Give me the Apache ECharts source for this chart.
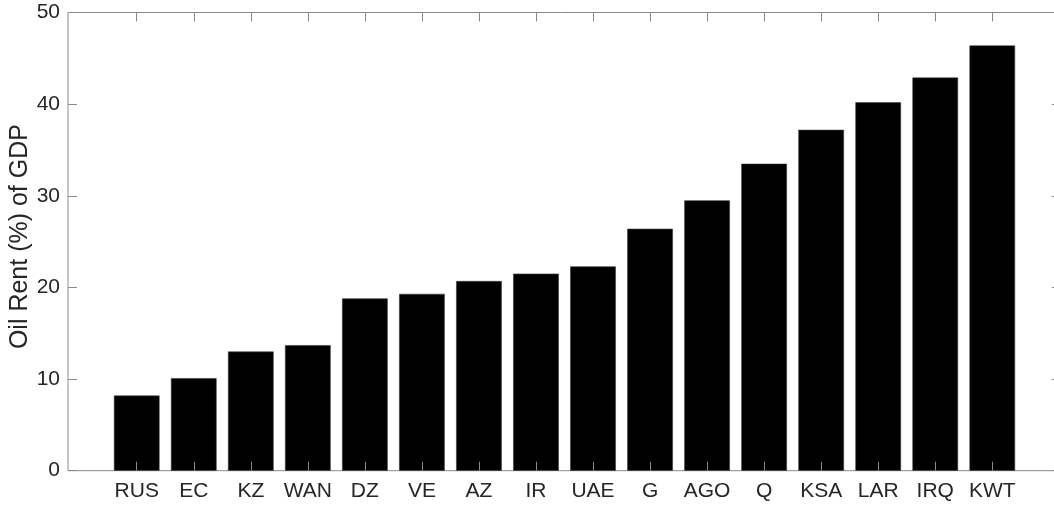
<!DOCTYPE html>
<html>
<head>
<meta charset="utf-8">
<script src="https://cdn.jsdelivr.net/npm/echarts@6/dist/echarts.min.js"></script>
<style>
  html, body { margin: 0; padding: 0; background: #fff; }
  #chart { width: 1054px; height: 507px; }
</style>
</head>
<body>
<div id="chart"></div>
<script>
// Oil rent as a share of GDP, by country code
const categories = ['RUS', 'EC', 'KZ', 'WAN', 'DZ', 'VE', 'AZ', 'IR', 'UAE', 'G', 'AGO', 'Q', 'KSA', 'LAR', 'IRQ', 'KWT'];
const oilRent = [8.2, 10.1, 13.0, 13.7, 18.8, 19.3, 20.7, 21.5, 22.3, 26.4, 29.5, 33.5, 37.2, 40.2, 42.9, 46.4];
const yMin = 0;
const yMax = 50;
const yStep = 10;
const yTitle = 'Oil Rent (%) of GDP';

const axisGray = '#8a8a8a';
const textColor = '#262626';
const fontFamily = '"Liberation Sans", Arial, Helvetica, sans-serif';

const chart = echarts.init(document.getElementById('chart'), null, { renderer: 'canvas' });

chart.setOption({
  animation: false,
  backgroundColor: '#fff',
  textStyle: { fontFamily: fontFamily },
  grid: [
    // outer box with the value axes (extends a little past the right edge)
    { left: 68, top: 12.5, width: 992.8, height: 458.2, show: true,
      outerBoundsMode: 'none', containLabel: false,
      borderColor: axisGray, borderWidth: 1, backgroundColor: 'transparent' },
    // inner band area holding the bars
    { left: 108.2, top: 12.5, width: 912.6, height: 458.2,
      outerBoundsMode: 'none', containLabel: false }
  ],
  xAxis: [
    { gridIndex: 0, type: 'value', min: 0, max: 1, show: false },
    {
      gridIndex: 1, type: 'category', position: 'bottom', data: categories,
      boundaryGap: true, z: 10,
      axisLine: { show: false },
      axisTick: { show: true, inside: true, alignWithLabel: true, interval: 0, length: 9,
                  lineStyle: { color: axisGray, width: 1 } },
      axisLabel: { color: textColor, fontSize: 21, margin: 10, interval: 0, fontFamily: fontFamily },
      splitLine: { show: false }
    },
    {
      gridIndex: 1, type: 'category', position: 'top', data: categories,
      boundaryGap: true, z: 10,
      axisLine: { show: false },
      axisTick: { show: true, inside: true, alignWithLabel: true, interval: 0, length: 9,
                  lineStyle: { color: axisGray, width: 1 } },
      axisLabel: { show: false, interval: 0 },
      splitLine: { show: false }
    }
  ],
  yAxis: [
    {
      gridIndex: 0, type: 'value', position: 'left', min: yMin, max: yMax, interval: yStep,
      name: yTitle, nameLocation: 'middle', nameGap: 35, nameRotate: 90, nameMoveOverlap: false,
      nameTextStyle: { color: textColor, fontSize: 25, fontFamily: fontFamily, padding: [0, 0, 0, 10] },
      axisLine: { show: false },
      axisTick: { show: true, inside: true, length: 9, lineStyle: { color: axisGray, width: 1 } },
      axisLabel: { color: textColor, fontSize: 21, margin: 8, fontFamily: fontFamily },
      splitLine: { show: false }
    },
    {
      gridIndex: 0, type: 'value', position: 'right', min: yMin, max: yMax, interval: yStep,
      axisLine: { show: false },
      axisTick: { show: true, inside: true, length: 9, lineStyle: { color: axisGray, width: 1 } },
      axisLabel: { show: false },
      splitLine: { show: false }
    },
    {
      gridIndex: 1, type: 'value', min: yMin, max: yMax, interval: yStep, show: false,
      splitLine: { show: false }
    }
  ],
  series: [
    {
      type: 'bar',
      xAxisIndex: 1,
      yAxisIndex: 2,
      data: oilRent,
      barCategoryGap: '20%',
      itemStyle: { color: '#000', borderColor: '#3a3a3a', borderWidth: 0.6 },
      z: 2
    }
  ]
});
</script>
</body>
</html>
